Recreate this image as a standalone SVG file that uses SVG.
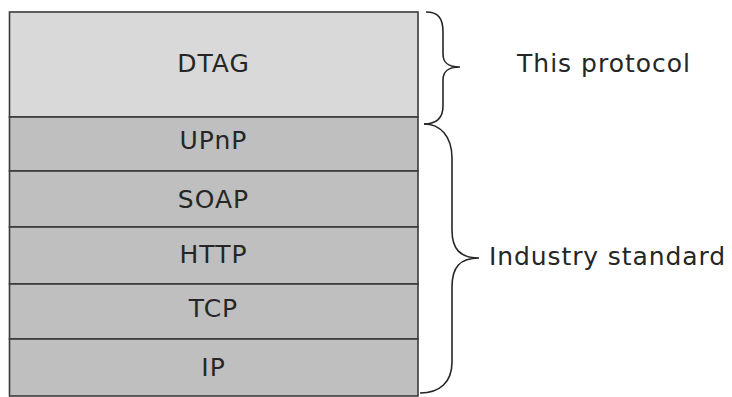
<svg xmlns="http://www.w3.org/2000/svg" width="732" height="397" viewBox="0 0 732 397">
<style>
.layer{stroke:#3a3a3a;stroke-width:1.6}
.top{fill:#d9d9d9}
.std{fill:#bfbfbf}
.lbl{font-family:"DejaVu Sans",Verdana,sans-serif;font-size:25px;letter-spacing:1px;fill:#262626;text-anchor:middle}
.side{font-family:"DejaVu Sans",Verdana,sans-serif;font-size:25px;fill:#262626}
.brace{fill:none;stroke:#262626;stroke-width:1.6}
</style>
<rect width="732" height="397" fill="#ffffff"/>
<g id="dtag"><rect class="layer top" x="9.5" y="12" width="408.5" height="105"/><text class="lbl" x="213.5" y="72">DTAG</text></g>
<g id="upnp"><rect class="layer std" x="9.5" y="117" width="408.5" height="54"/><text class="lbl" x="213.5" y="149">UPnP</text></g>
<g id="soap"><rect class="layer std" x="9.5" y="171" width="408.5" height="56"/><text class="lbl" x="213.5" y="208">SOAP</text></g>
<g id="http"><rect class="layer std" x="9.5" y="227" width="408.5" height="57"/><text class="lbl" x="213.5" y="263">HTTP</text></g>
<g id="tcp"><rect class="layer std" x="9.5" y="284" width="408.5" height="55"/><text class="lbl" x="213.5" y="317">TCP</text></g>
<g id="ip"><rect class="layer std" x="9.5" y="339" width="408.5" height="57"/><text class="lbl" x="213.5" y="376">IP</text></g>
<g id="connectors">
<path class="brace" d="M426,12 C438,12 443,18 443,32 L443,54 C443,63 448,67 460,67 C448,67 443,71 443,80 L443,106 C443,118 436,124 424,124"/>
<path class="brace" d="M424,124 C440,124 452,136 452,158 L452,230 C452,249 460,258 479,258 C460,258 452,267 452,287 L452,362 C452,382 440,393 420,393"/>
</g>
<g id="this-protocol"><text class="side" x="517" y="72" textLength="173" lengthAdjust="spacing">This protocol</text></g>
<g id="industry-standard"><text class="side" x="489" y="265" textLength="236" lengthAdjust="spacing">Industry standard</text></g>
</svg>
